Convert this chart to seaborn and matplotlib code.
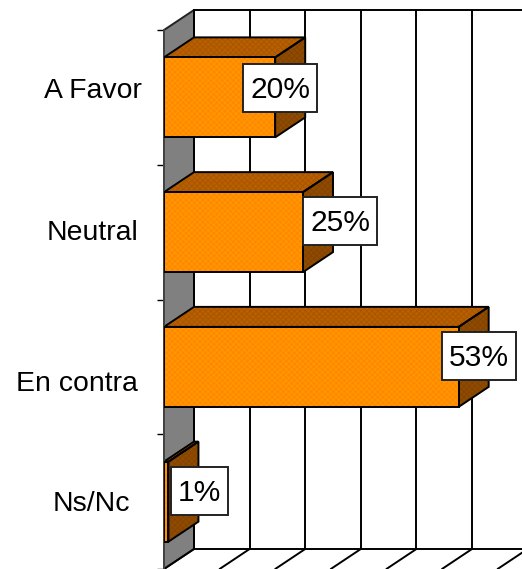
# 3D style horizontal bar chart, drawn on a seaborn barplot

import seaborn as sns
import matplotlib.pyplot as plt
import pandas as pd
from matplotlib.patches import Polygon, Rectangle

# ======================================
# DATA
# ======================================

categories = ["A Favor", "Neutral", "En contra", "Ns/Nc"]
values = [20, 25, 53, 0.8]
value_labels = ["20%", "25%", "53%", "1%"]
grid_values = [0, 10, 20, 30, 40, 50, 60]

# label placement, in pixels
category_right = [142, 138, 138, 130]
category_dy = [-6, 1, 17, 2]
box_dx = [5, 37, 20, 31]
box_dy = [-9, -11, -11, -11]
box_w = [74, 74, 74, 57]
box_h = 48
TEXT_SHIFT = 2

# ======================================
# STYLE AND LAYOUT
# ======================================

W, H = 522, 569
DPI = 100
LEFT, TOP = 164, 30
PX_PER_UNIT = 5.56
BAND_PX = (H - TOP) / 4
DEPTH_X = 30 / PX_PER_UNIT
DEPTH_Y = 20 / BAND_PX
FONT_PT = 20.4
VALUE_PT = 21.6
LW = 1.4

FRONT = "#FF8800"
FRONT_H = "#FF9A00"
TOP_FACE = "#B86000"
TOP_H = "#A85400"
SIDE = "#8F4C00"
SIDE_H = "#824200"

sns.set_style("white")
plt.rcParams["font.family"] = ["Liberation Sans", "DejaVu Sans"]
plt.rcParams["hatch.linewidth"] = 0.6

fig = plt.figure(figsize=(W / DPI, H / DPI), dpi=DPI)
ax = fig.add_axes([LEFT / W, 0, (W - LEFT) / W, (H - TOP) / H])

df = pd.DataFrame({"categoria": categories, "valor": values})

sns.barplot(
    data=df,
    x="valor",
    y="categoria",
    orient="h",
    width=80 / BAND_PX,
    color=FRONT,
    saturation=1,
    ax=ax,
    zorder=3,
)

ax.set_xlim(0, (W - LEFT) / PX_PER_UNIT)
ax.set_ylim(3.5, -0.5)
ax.set_xlabel("")
ax.set_ylabel("")
ax.grid(False)
ax.set_xticks([])
ax.set_yticks([-0.5, 0.5, 1.5, 2.5, 3.5])
ax.set_yticklabels([])
ax.tick_params(axis="y", left=True, length=5, width=1, color="black")
for name in ["top", "right", "bottom"]:
    ax.spines[name].set_visible(False)
ax.spines["left"].set_color("#444444")
ax.spines["left"].set_linewidth(LW)


def draw_face(xs, ys, color, hatch_color, zorder):
    pts = list(zip(xs, ys))
    ax.add_patch(Polygon(pts, facecolor=color, edgecolor=hatch_color,
                         hatch="xxxxxx", linewidth=0, zorder=zorder, clip_on=False))
    ax.add_patch(Polygon(pts, fill=False, edgecolor="black",
                         linewidth=LW, zorder=zorder + 0.1, clip_on=False))


# ======================================
# BACK WALL, GRID AND FLOOR
# ======================================

y_top, y_bot = -0.5, 3.5
x_end = ax.get_xlim()[1]

ax.add_patch(Polygon(
    [(0, y_top), (DEPTH_X, y_top - DEPTH_Y), (DEPTH_X, y_bot - DEPTH_Y), (0, y_bot)],
    facecolor="#808080", edgecolor="#222222", linewidth=LW, zorder=1, clip_on=False,
))

for g in grid_values:
    ax.plot([g + DEPTH_X, g + DEPTH_X], [y_top - DEPTH_Y, y_bot - DEPTH_Y],
            color="black", lw=LW, zorder=1.5, clip_on=False)
    ax.plot([g + DEPTH_X, g], [y_bot - DEPTH_Y, y_bot],
            color="black", lw=LW, zorder=1.5, clip_on=False)

for y in [y_top - DEPTH_Y, y_bot - DEPTH_Y]:
    ax.plot([DEPTH_X, x_end], [y, y], color="black", lw=LW, zorder=1.5, clip_on=False)

# ======================================
# BARS
# ======================================

for i, bar in enumerate(ax.patches[:len(values)]):
    x1 = bar.get_width()
    y0 = bar.get_y()
    y1 = y0 + bar.get_height()

    bar.set_facecolor(FRONT)
    bar.set_edgecolor(FRONT_H)
    bar.set_hatch("xxxxxx")
    bar.set_linewidth(0)
    ax.add_patch(Rectangle((0, y0), x1, y1 - y0, fill=False, edgecolor="black",
                           linewidth=LW, zorder=3.1))

    # top face and right side face
    draw_face([0, DEPTH_X, x1 + DEPTH_X, x1], [y0, y0 - DEPTH_Y, y0 - DEPTH_Y, y0],
              TOP_FACE, TOP_H, 2)
    draw_face([x1, x1 + DEPTH_X, x1 + DEPTH_X, x1], [y0, y0 - DEPTH_Y, y1 - DEPTH_Y, y1],
              SIDE, SIDE_H, 2)

# ======================================
# TEXT AND LABEL BOXES
# ======================================

to_pt = 72 / DPI

for i, name in enumerate(categories):
    ax.annotate(
        name,
        xy=(0, i),
        xytext=((category_right[i] - LEFT) * to_pt, -category_dy[i] * to_pt),
        textcoords="offset points",
        ha="right",
        va="center",
        fontsize=FONT_PT,
        color="black",
        annotation_clip=False,
    )

for i, label in enumerate(value_labels):
    cx, cy = ax.transData.transform((values[i], i))
    cx += box_dx[i]
    cy -= box_dy[i]
    ax.add_patch(Rectangle(
        (cx - box_w[i] / 2, cy - box_h / 2),
        box_w[i],
        box_h,
        transform=None,
        facecolor="white",
        edgecolor="#222222",
        linewidth=LW,
        zorder=5,
        clip_on=False,
    ))
    ax.annotate(
        label,
        xy=(values[i], i),
        xytext=(box_dx[i] * to_pt, -(box_dy[i] + TEXT_SHIFT) * to_pt),
        textcoords="offset points",
        ha="center",
        va="center",
        fontsize=VALUE_PT,
        color="black",
        zorder=6,
        annotation_clip=False,
    )

fig.savefig("out.png", dpi=DPI)
